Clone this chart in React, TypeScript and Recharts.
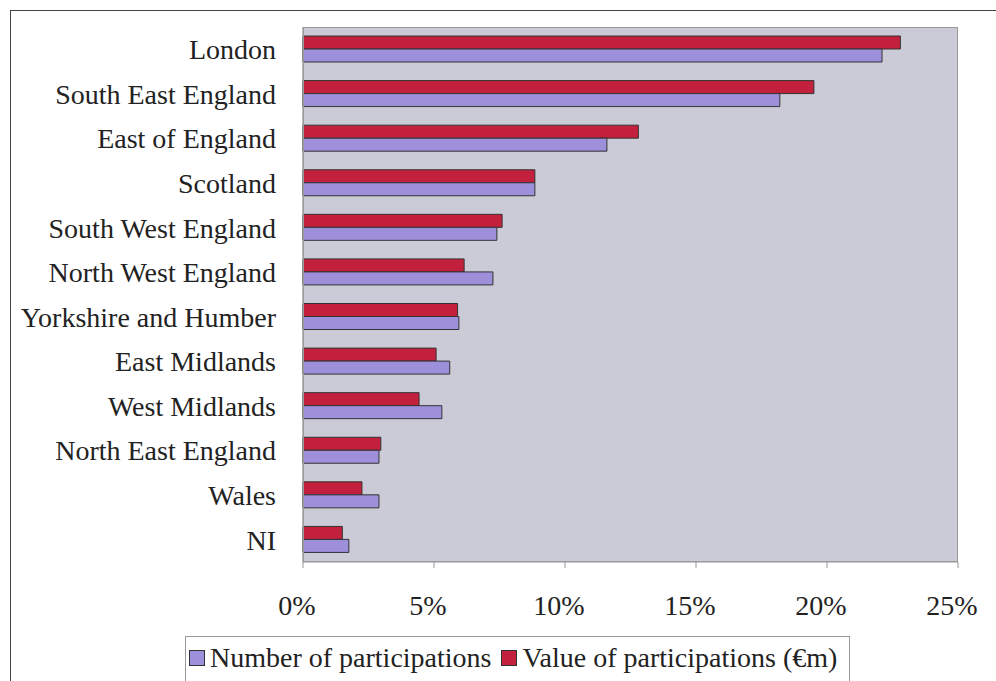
import React from 'react';
import {
  BarChart,
  Bar,
  XAxis,
  YAxis,
  CartesianGrid,
} from 'recharts';

// Share of UK participations by region (%)
const regions = [
  'London',
  'South East England',
  'East of England',
  'Scotland',
  'South West England',
  'North West England',
  'Yorkshire and Humber',
  'East Midlands',
  'West Midlands',
  'North East England',
  'Wales',
  'NI',
];
const numberOfParticipations = [22.1, 18.2, 11.6, 8.85, 7.4, 7.25, 5.95, 5.6, 5.3, 2.9, 2.9, 1.75];
const valueOfParticipations = [22.8, 19.5, 12.8, 8.85, 7.6, 6.15, 5.9, 5.08, 4.43, 2.97, 2.25, 1.5];
const xTicks = [0, 5, 10, 15, 20, 25];

const seriesNames = {
  number: 'Number of participations',
  value: 'Value of participations (€m)',
};

const PURPLE = '#9d8fda';
const RED = '#c2203c';
const PLOT_BG = '#cbcbd7';
const FONT = '"Liberation Serif", "Times New Roman", serif';

const data = regions.map((region, i) => ({
  region,
  number: numberOfParticipations[i],
  value: valueOfParticipations[i],
}));

function LegendBox() {
  const item = (color: string, label: string) => (
    <span style={{ display: 'inline-flex', alignItems: 'center', marginRight: 10 }}>
      <span
        style={{
          display: 'inline-block',
          width: 14,
          height: 14,
          background: color,
          border: '1px solid #333',
          marginRight: 5,
        }}
      />
      {label}
    </span>
  );
  return (
    <div
      style={{
        position: 'absolute',
        left: 185,
        top: 636,
        border: '1px solid #999',
        background: '#fff',
        padding: '4px 2px 10px 3px',
        fontFamily: FONT,
        fontSize: 28,
        color: '#222',
        whiteSpace: 'nowrap',
        lineHeight: '32px',
      }}
    >
      {item(PURPLE, seriesNames.number)}
      {item(RED, seriesNames.value)}
    </div>
  );
}

export default function App() {
  return (
    <div style={{ position: 'absolute', left: 0, top: 0, width: 996, height: 681, background: '#fff', overflow: 'hidden' }}>
      {/* outer frame */}
      <div
        style={{
          position: 'absolute',
          left: 10,
          top: 10,
          width: 1000,
          height: 700,
          borderLeft: '1px solid #444',
          borderTop: '1px solid #444',
        }}
      />
      <BarChart
        width={996}
        height={681}
        data={data}
        layout="vertical"
        margin={{ top: 27, right: 38, bottom: 49, left: 0 }}
        barGap={0}
        barSize={13}
        style={{ position: 'absolute', left: 0, top: 0 }}
      >
        <CartesianGrid fill={PLOT_BG} fillOpacity={1} horizontal={false} vertical={false} />
        <XAxis
          type="number"
          domain={[0, 25]}
          ticks={xTicks}
          tickFormatter={(v: number) => `${v}%`}
          axisLine={{ stroke: '#999' }}
          tickLine={{ stroke: '#999' }}
          tickSize={6}
          tickMargin={27}
          tick={{ fontFamily: FONT, fontSize: 28, fill: '#222', dx: -6 }}
          height={70}
        />
        <YAxis
          type="category"
          dataKey="region"
          width={303}
          axisLine={{ stroke: '#777' }}
          tickLine={false}
          tickMargin={21}
          tick={{ fontFamily: FONT, fontSize: 28, fill: '#222' }}
          interval={0}
        />
        <Bar
          dataKey="value"
          name={seriesNames.value}
          fill={RED}
          stroke="#333"
          strokeWidth={1}
          isAnimationActive={false}
        />
        <Bar
          dataKey="number"
          name={seriesNames.number}
          fill={PURPLE}
          stroke="#333"
          strokeWidth={1}
          isAnimationActive={false}
        />
      </BarChart>
      {/* plot area border */}
      <div
        style={{
          position: 'absolute',
          left: 303,
          top: 27,
          width: 655,
          height: 535,
          border: '1px solid #999',
          boxSizing: 'border-box',
          pointerEvents: 'none',
        }}
      />
      <LegendBox />
    </div>
  );
}
